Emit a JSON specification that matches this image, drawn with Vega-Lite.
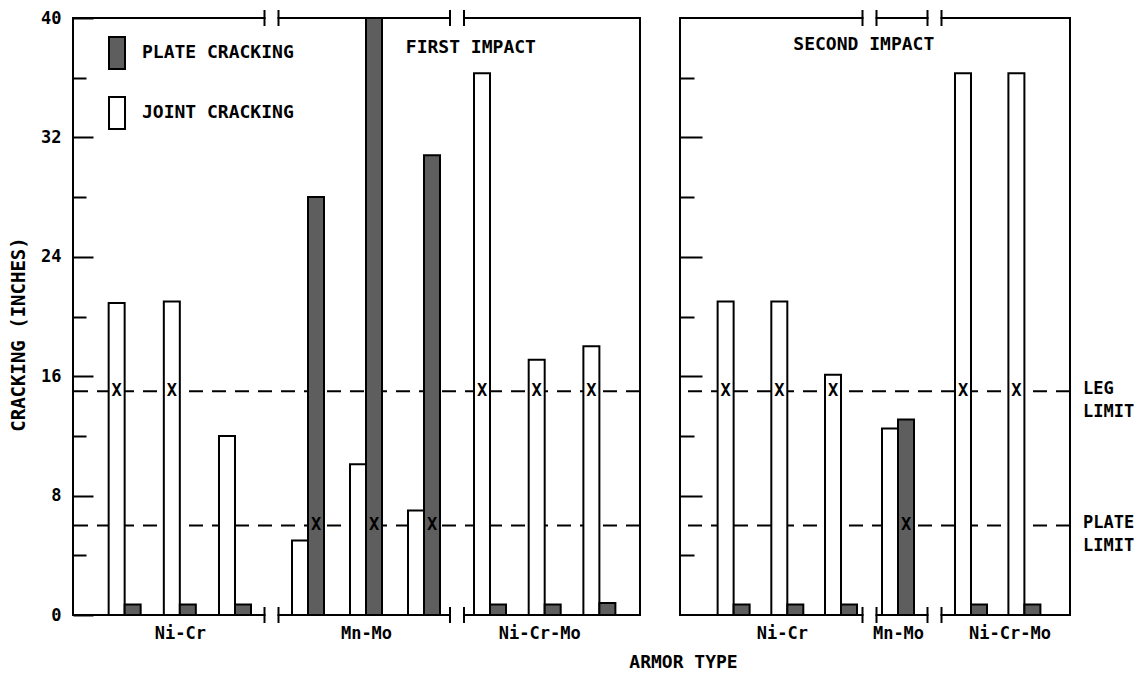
{
  "$schema": "https://vega.github.io/schema/vega-lite/v6.json",
  "background": "white",
  "padding": {"left": 8, "top": 8, "right": 5, "bottom": 5},
  "bounds": "flush",
  "spacing": 40,
  "config": {
    "font": "DejaVu Sans Mono",
    "view": {"stroke": "black", "strokeWidth": 2},
    "axis": {"grid": false},
    "tick": {"opacity": 1},
    "text": {"color": "black"}
  },
  "datasets": {
    "bars": [
      {"panel": "FIRST IMPACT", "group": "Ni-Cr", "n": 1, "type": "JOINT CRACKING", "value": 20.9, "xmark": 15},
      {"panel": "FIRST IMPACT", "group": "Ni-Cr", "n": 1, "type": "PLATE CRACKING", "value": 0.7, "xmark": null},
      {"panel": "FIRST IMPACT", "group": "Ni-Cr", "n": 2, "type": "JOINT CRACKING", "value": 21.0, "xmark": 15},
      {"panel": "FIRST IMPACT", "group": "Ni-Cr", "n": 2, "type": "PLATE CRACKING", "value": 0.7, "xmark": null},
      {"panel": "FIRST IMPACT", "group": "Ni-Cr", "n": 3, "type": "JOINT CRACKING", "value": 12.0, "xmark": null},
      {"panel": "FIRST IMPACT", "group": "Ni-Cr", "n": 3, "type": "PLATE CRACKING", "value": 0.7, "xmark": null},
      {"panel": "FIRST IMPACT", "group": "Mn-Mo", "n": 4, "type": "JOINT CRACKING", "value": 5.0, "xmark": null},
      {"panel": "FIRST IMPACT", "group": "Mn-Mo", "n": 4, "type": "PLATE CRACKING", "value": 28.0, "xmark": 6},
      {"panel": "FIRST IMPACT", "group": "Mn-Mo", "n": 5, "type": "JOINT CRACKING", "value": 10.1, "xmark": null},
      {"panel": "FIRST IMPACT", "group": "Mn-Mo", "n": 5, "type": "PLATE CRACKING", "value": 40.0, "xmark": 6},
      {"panel": "FIRST IMPACT", "group": "Mn-Mo", "n": 6, "type": "JOINT CRACKING", "value": 7.0, "xmark": null},
      {"panel": "FIRST IMPACT", "group": "Mn-Mo", "n": 6, "type": "PLATE CRACKING", "value": 30.8, "xmark": 6},
      {"panel": "FIRST IMPACT", "group": "Ni-Cr-Mo", "n": 7, "type": "JOINT CRACKING", "value": 36.3, "xmark": 15},
      {"panel": "FIRST IMPACT", "group": "Ni-Cr-Mo", "n": 7, "type": "PLATE CRACKING", "value": 0.7, "xmark": null},
      {"panel": "FIRST IMPACT", "group": "Ni-Cr-Mo", "n": 8, "type": "JOINT CRACKING", "value": 17.1, "xmark": 15},
      {"panel": "FIRST IMPACT", "group": "Ni-Cr-Mo", "n": 8, "type": "PLATE CRACKING", "value": 0.7, "xmark": null},
      {"panel": "FIRST IMPACT", "group": "Ni-Cr-Mo", "n": 9, "type": "JOINT CRACKING", "value": 18.0, "xmark": 15},
      {"panel": "FIRST IMPACT", "group": "Ni-Cr-Mo", "n": 9, "type": "PLATE CRACKING", "value": 0.8, "xmark": null},
      {"panel": "SECOND IMPACT", "group": "Ni-Cr", "n": 1, "type": "JOINT CRACKING", "value": 21.0, "xmark": 15},
      {"panel": "SECOND IMPACT", "group": "Ni-Cr", "n": 1, "type": "PLATE CRACKING", "value": 0.7, "xmark": null},
      {"panel": "SECOND IMPACT", "group": "Ni-Cr", "n": 2, "type": "JOINT CRACKING", "value": 21.0, "xmark": 15},
      {"panel": "SECOND IMPACT", "group": "Ni-Cr", "n": 2, "type": "PLATE CRACKING", "value": 0.7, "xmark": null},
      {"panel": "SECOND IMPACT", "group": "Ni-Cr", "n": 3, "type": "JOINT CRACKING", "value": 16.1, "xmark": 15},
      {"panel": "SECOND IMPACT", "group": "Ni-Cr", "n": 3, "type": "PLATE CRACKING", "value": 0.7, "xmark": null},
      {"panel": "SECOND IMPACT", "group": "Mn-Mo", "n": 4, "type": "JOINT CRACKING", "value": 12.5, "xmark": null},
      {"panel": "SECOND IMPACT", "group": "Mn-Mo", "n": 4, "type": "PLATE CRACKING", "value": 13.1, "xmark": 6},
      {"panel": "SECOND IMPACT", "group": "Ni-Cr-Mo", "n": 5, "type": "JOINT CRACKING", "value": 36.3, "xmark": 15},
      {"panel": "SECOND IMPACT", "group": "Ni-Cr-Mo", "n": 5, "type": "PLATE CRACKING", "value": 0.7, "xmark": null},
      {"panel": "SECOND IMPACT", "group": "Ni-Cr-Mo", "n": 6, "type": "JOINT CRACKING", "value": 36.3, "xmark": 15},
      {"panel": "SECOND IMPACT", "group": "Ni-Cr-Mo", "n": 6, "type": "PLATE CRACKING", "value": 0.7, "xmark": null}
    ],
    "limits": [
      {"limit": "LEG LIMIT", "value": 15},
      {"limit": "PLATE LIMIT", "value": 6}
    ],
    "breaks": [
      {"panel": "FIRST IMPACT", "n": 3.5, "edge": 40},
      {"panel": "FIRST IMPACT", "n": 3.5, "edge": 0},
      {"panel": "FIRST IMPACT", "n": 6.5, "edge": 40},
      {"panel": "FIRST IMPACT", "n": 6.5, "edge": 0},
      {"panel": "SECOND IMPACT", "n": 3.5, "edge": 40},
      {"panel": "SECOND IMPACT", "n": 3.5, "edge": 0},
      {"panel": "SECOND IMPACT", "n": 4.5, "edge": 40},
      {"panel": "SECOND IMPACT", "n": 4.5, "edge": 0}
    ]
  },
  "resolve": {"scale": {"fill": "independent"}, "legend": {"fill": "independent"}},
  "hconcat": [
    {
      "width": 567,
      "height": 597,
      "resolve": {"axis": {"y": "independent"}},
      "layer": [
        {
          "data": {"name": "limits"},
          "mark": {"type": "rule", "strokeDash": [14, 9], "strokeWidth": 2, "color": "black"},
          "encoding": {
            "y": {"field": "value", "type": "quantitative",
              "scale": {"domain": [0, 40], "nice": false, "zero": true},
              "axis": {"orient": "left", "values": [4, 12, 20, 28, 36], "tickSize": -13, "tickWidth": 2, "tickColor": "black", "labels": false, "domain": false, "grid": false, "title": null}}
          }
        },
        {
          "data": {"name": "bars"},
          "transform": [{"filter": "datum.panel === 'FIRST IMPACT' && datum.type === 'JOINT CRACKING'"}],
          "mark": {"type": "bar", "orient": "vertical", "width": 16, "xOffset": -8, "stroke": "black", "strokeWidth": 2},
          "encoding": {
            "x": {"field": "n", "type": "quantitative",
              "scale": {"domain": [1, 3, 4, 6, 7, 9], "range": [47, 162, 235, 351, 417, 531], "nice": false, "zero": false},
              "axis": {"values": [2, 5, 7.9], "labelExpr": "datum.value < 3 ? 'Ni-Cr' : datum.value < 6 ? 'Mn-Mo' : 'Ni-Cr-Mo'", "ticks": false, "domain": false, "grid": false, "labelFlush": false, "labelOverlap": false, "labelPadding": 10, "labelFontSize": 17, "labelFontWeight": "bold", "labelColor": "black", "title": null}},
            "y": {"field": "value", "type": "quantitative", "stack": null,
              "axis": {"orient": "left", "values": [0, 8, 16, 24, 32, 40], "tickSize": -20, "tickWidth": 2, "tickColor": "black", "domain": false, "grid": false, "labelPadding": 32, "labelFontSize": 17, "labelFontWeight": "bold", "labelColor": "black", "title": "CRACKING (INCHES)", "titleFontSize": 19, "titleFontWeight": "bold", "titleColor": "black", "titleX": -55, "titleY": 316, "titleAngle": 270, "titleAlign": "center", "titleBaseline": "middle"}},
            "fill": {"field": "type", "type": "nominal",
              "scale": {"domain": ["PLATE CRACKING", "JOINT CRACKING"], "range": ["#5e5e5e", "white"]},
              "legend": {"title": null, "orient": "none", "legendX": 27, "legendY": 18, "symbolType": "M-0.5,-1H0.5V1H-0.5Z", "symbolSize": 1024, "symbolStrokeColor": "black", "symbolStrokeWidth": 2, "labelFont": "DejaVu Sans Mono", "labelFontSize": 18, "labelFontWeight": "bold", "labelColor": "black", "labelOffset": 8, "rowPadding": 20, "padding": 0, "labelLimit": 400}}
          }
        },
        {
          "data": {"name": "bars"},
          "transform": [{"filter": "datum.panel === 'FIRST IMPACT' && datum.type === 'PLATE CRACKING'"}],
          "mark": {"type": "bar", "orient": "vertical", "width": 16, "xOffset": 8, "stroke": "black", "strokeWidth": 2},
          "encoding": {
            "x": {"field": "n", "type": "quantitative"},
            "y": {"field": "value", "type": "quantitative", "stack": null, "axis": null},
            "fill": {"field": "type", "type": "nominal",
              "scale": {"domain": ["PLATE CRACKING", "JOINT CRACKING"], "range": ["#5e5e5e", "white"]},
              "legend": {"title": null, "orient": "none", "legendX": 27, "legendY": 18, "symbolType": "M-0.5,-1H0.5V1H-0.5Z", "symbolSize": 1024, "symbolStrokeColor": "black", "symbolStrokeWidth": 2, "labelFont": "DejaVu Sans Mono", "labelFontSize": 18, "labelFontWeight": "bold", "labelColor": "black", "labelOffset": 8, "rowPadding": 20, "padding": 0, "labelLimit": 400}}
          }
        },
        {
          "data": {"name": "bars"},
          "transform": [{"filter": "datum.panel === 'FIRST IMPACT' && datum.type === 'JOINT CRACKING' && isValid(datum.xmark)"}],
          "mark": {"type": "text", "text": "X", "xOffset": -8, "fontSize": 17, "fontWeight": "bold", "align": "center", "baseline": "middle", "color": "black"},
          "encoding": {
            "x": {"field": "n", "type": "quantitative"},
            "y": {"field": "xmark", "type": "quantitative", "axis": null}
          }
        },
        {
          "data": {"name": "bars"},
          "transform": [{"filter": "datum.panel === 'FIRST IMPACT' && datum.type === 'PLATE CRACKING' && isValid(datum.xmark)"}],
          "mark": {"type": "text", "text": "X", "xOffset": 8, "fontSize": 17, "fontWeight": "bold", "align": "center", "baseline": "middle", "color": "black"},
          "encoding": {
            "x": {"field": "n", "type": "quantitative"},
            "y": {"field": "xmark", "type": "quantitative", "axis": null}
          }
        },
        {
          "data": {"name": "breaks"},
          "transform": [{"filter": "datum.panel === 'FIRST IMPACT'"}],
          "mark": {"type": "tick", "orient": "horizontal", "size": 12, "thickness": 6, "color": "white", "opacity": 1},
          "encoding": {
            "x": {"field": "n", "type": "quantitative"},
            "y": {"field": "edge", "type": "quantitative", "axis": null}
          }
        },
        {
          "data": {"name": "breaks"},
          "transform": [{"filter": "datum.panel === 'FIRST IMPACT'"}],
          "mark": {"type": "tick", "orient": "vertical", "size": 16, "thickness": 2, "xOffset": -7, "color": "black", "opacity": 1},
          "encoding": {
            "x": {"field": "n", "type": "quantitative"},
            "y": {"field": "edge", "type": "quantitative", "axis": null}
          }
        },
        {
          "data": {"name": "breaks"},
          "transform": [{"filter": "datum.panel === 'FIRST IMPACT'"}],
          "mark": {"type": "tick", "orient": "vertical", "size": 16, "thickness": 2, "xOffset": 7, "color": "black", "opacity": 1},
          "encoding": {
            "x": {"field": "n", "type": "quantitative"},
            "y": {"field": "edge", "type": "quantitative", "axis": null}
          }
        },
        {
          "data": {"values": [{"label": "FIRST IMPACT"}]},
          "mark": {"type": "text", "fontSize": 18, "fontWeight": "bold", "align": "center", "baseline": "middle", "color": "black"},
          "encoding": {
            "x": {"datum": 6.71, "type": "quantitative"},
            "y": {"datum": 38, "type": "quantitative", "axis": null},
            "text": {"field": "label"}
          }
        }
      ]
    },
    {
      "width": 390,
      "height": 597,
      "resolve": {"axis": {"y": "independent"}},
      "layer": [
        {
          "data": {"name": "limits"},
          "mark": {"type": "rule", "strokeDash": [14, 9], "strokeWidth": 2, "color": "black"},
          "encoding": {
            "y": {"field": "value", "type": "quantitative",
              "scale": {"domain": [0, 40], "nice": false, "zero": true},
              "axis": {"orient": "left", "values": [4, 12, 20, 28, 36], "tickSize": -14, "tickWidth": 2, "tickColor": "black", "labels": false, "domain": false, "grid": false, "title": null}}
          }
        },
        {
          "data": {"name": "bars"},
          "transform": [{"filter": "datum.panel === 'SECOND IMPACT' && datum.type === 'JOINT CRACKING'"}],
          "mark": {"type": "bar", "orient": "vertical", "width": 16, "xOffset": -8, "stroke": "black", "strokeWidth": 2},
          "encoding": {
            "x": {"field": "n", "type": "quantitative",
              "scale": {"domain": [1, 3, 4, 5, 6], "range": [49, 161, 218, 291, 349], "nice": false, "zero": false},
              "axis": {"values": [1.9, 4, 5.72], "labelExpr": "datum.value < 3 ? 'Ni-Cr' : datum.value < 5 ? 'Mn-Mo' : 'Ni-Cr-Mo'", "ticks": false, "domain": false, "grid": false, "labelFlush": false, "labelOverlap": false, "labelPadding": 10, "labelFontSize": 17, "labelFontWeight": "bold", "labelColor": "black", "title": "ARMOR TYPE", "titleFontSize": 18, "titleFontWeight": "bold", "titleColor": "black", "titleX": 3, "titleY": 47, "titleAlign": "center", "titleBaseline": "middle"}},
            "y": {"field": "value", "type": "quantitative", "stack": null,
              "axis": {"orient": "left", "values": [8, 16, 24, 32], "tickSize": -22, "tickWidth": 2, "tickColor": "black", "labels": false, "domain": false, "grid": false, "title": null}},
            "fill": {"field": "type", "type": "nominal",
              "scale": {"domain": ["PLATE CRACKING", "JOINT CRACKING"], "range": ["#5e5e5e", "white"]},
              "legend": null}
          }
        },
        {
          "data": {"name": "bars"},
          "transform": [{"filter": "datum.panel === 'SECOND IMPACT' && datum.type === 'PLATE CRACKING'"}],
          "mark": {"type": "bar", "orient": "vertical", "width": 16, "xOffset": 8, "stroke": "black", "strokeWidth": 2},
          "encoding": {
            "x": {"field": "n", "type": "quantitative"},
            "y": {"field": "value", "type": "quantitative", "stack": null, "axis": null},
            "fill": {"field": "type", "type": "nominal",
              "scale": {"domain": ["PLATE CRACKING", "JOINT CRACKING"], "range": ["#5e5e5e", "white"]},
              "legend": null}
          }
        },
        {
          "data": {"name": "bars"},
          "transform": [{"filter": "datum.panel === 'SECOND IMPACT' && datum.type === 'JOINT CRACKING' && isValid(datum.xmark)"}],
          "mark": {"type": "text", "text": "X", "xOffset": -8, "fontSize": 17, "fontWeight": "bold", "align": "center", "baseline": "middle", "color": "black"},
          "encoding": {
            "x": {"field": "n", "type": "quantitative"},
            "y": {"field": "xmark", "type": "quantitative", "axis": null}
          }
        },
        {
          "data": {"name": "bars"},
          "transform": [{"filter": "datum.panel === 'SECOND IMPACT' && datum.type === 'PLATE CRACKING' && isValid(datum.xmark)"}],
          "mark": {"type": "text", "text": "X", "xOffset": 8, "fontSize": 17, "fontWeight": "bold", "align": "center", "baseline": "middle", "color": "black"},
          "encoding": {
            "x": {"field": "n", "type": "quantitative"},
            "y": {"field": "xmark", "type": "quantitative", "axis": null}
          }
        },
        {
          "data": {"name": "breaks"},
          "transform": [{"filter": "datum.panel === 'SECOND IMPACT'"}],
          "mark": {"type": "tick", "orient": "horizontal", "size": 12, "thickness": 6, "color": "white", "opacity": 1},
          "encoding": {
            "x": {"field": "n", "type": "quantitative"},
            "y": {"field": "edge", "type": "quantitative", "axis": null}
          }
        },
        {
          "data": {"name": "breaks"},
          "transform": [{"filter": "datum.panel === 'SECOND IMPACT'"}],
          "mark": {"type": "tick", "orient": "vertical", "size": 16, "thickness": 2, "xOffset": -7, "color": "black", "opacity": 1},
          "encoding": {
            "x": {"field": "n", "type": "quantitative"},
            "y": {"field": "edge", "type": "quantitative", "axis": null}
          }
        },
        {
          "data": {"name": "breaks"},
          "transform": [{"filter": "datum.panel === 'SECOND IMPACT'"}],
          "mark": {"type": "tick", "orient": "vertical", "size": 16, "thickness": 2, "xOffset": 7, "color": "black", "opacity": 1},
          "encoding": {
            "x": {"field": "n", "type": "quantitative"},
            "y": {"field": "edge", "type": "quantitative", "axis": null}
          }
        },
        {
          "data": {"values": [{"label": "SECOND IMPACT"}]},
          "mark": {"type": "text", "fontSize": 18, "fontWeight": "bold", "align": "center", "baseline": "middle", "color": "black"},
          "encoding": {
            "x": {"datum": 3.4, "type": "quantitative"},
            "y": {"datum": 38.2, "type": "quantitative", "axis": null},
            "text": {"field": "label"}
          }
        },
        {
          "data": {"name": "limits"},
          "mark": {"type": "text", "align": "left", "baseline": "middle", "dx": 13, "dy": -2, "fontSize": 17, "fontWeight": "bold", "lineBreak": " ", "lineHeight": 23, "color": "black"},
          "encoding": {
            "x": {"value": "width"},
            "y": {"field": "value", "type": "quantitative", "axis": null},
            "text": {"field": "limit"}
          }
        }
      ]
    }
  ]
}
